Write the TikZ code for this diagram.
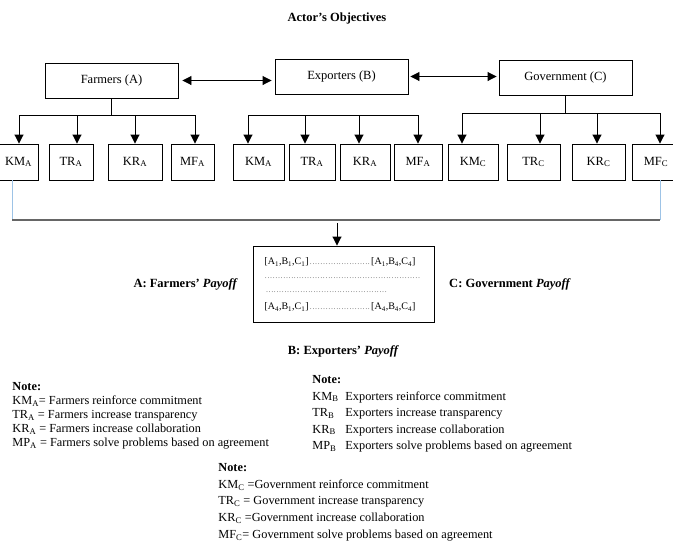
\documentclass[tikz,border=0pt]{standalone}
\usepackage{fontspec}
\setmainfont{Liberation Serif}
\usetikzlibrary{arrows,arrows.meta,positioning}
\newcommand{\payoffdots}{{\fontsize{6}{6}\selectfont\dotfill}}
\definecolor{feedblue}{RGB}{157,195,230}

\begin{document}
\begin{tikzpicture}[x=1pt,y=-1pt,>={Triangle[length=9pt,width=9pt]},line width=0.9pt,font=\fontsize{12.5}{14}\selectfont]
  \tikzstyle{actor}=[draw,rectangle,minimum width=133pt,minimum height=35pt,inner sep=0pt]
  \tikzstyle{goal}=[draw,rectangle,minimum height=36pt,inner sep=0pt]
  \tikzstyle{payoff label}=[font=\fontsize{12.5}{14}\selectfont\bfseries]
  \tikzstyle{row}=[anchor=west,inner sep=0pt,font=\fontsize{10}{12}\selectfont]
  \tikzstyle{note}=[anchor=north west,align=left,inner sep=0pt]
  \tikzstyle{feed}=[draw=feedblue,line width=1pt]

  \useasboundingbox (0,0) rectangle (673,542);

  \node[font=\fontsize{12.5}{14}\selectfont\bfseries] (title) at (337,18) {Actor's Objectives};

  \node[actor] (farmers)    at (111.5,80.5) {Farmers (A)};
  \node[actor] (exporters)  at (341.5,76.5) {Exporters (B)};
  \node[actor] (government) at (565.5,77.5) {Government (C)};

  \node[goal,minimum width=39pt] (kmA) at (18.5,162) {KM\textsubscript{A}};
  \node[goal,minimum width=44pt] (trA) at (71,162)   {TR\textsubscript{A}};
  \node[goal,minimum width=54pt] (krA) at (135,162)  {KR\textsubscript{A}};
  \node[goal,minimum width=43pt] (mfA) at (192.5,162) {MF\textsubscript{A}};
  \node[goal,minimum width=51pt] (kmB) at (258.5,162) {KM\textsubscript{A}};
  \node[goal,minimum width=46pt] (trB) at (312,162)  {TR\textsubscript{A}};
  \node[goal,minimum width=50pt] (krB) at (365,162)  {KR\textsubscript{A}};
  \node[goal,minimum width=48pt] (mfB) at (418,162)  {MF\textsubscript{A}};
  \node[goal,minimum width=50pt] (kmC) at (473,162)  {KM\textsubscript{C}};
  \node[goal,minimum width=53pt] (trC) at (533.5,162) {TR\textsubscript{C}};
  \node[goal,minimum width=53pt] (krC) at (598.5,162) {KR\textsubscript{C}};
  \node[goal,minimum width=48pt] (mfC) at (656,162)  {MF\textsubscript{C}};

  \coordinate (fbus) at (111.5,115);
  \coordinate (f1) at (19,115);
  \coordinate (f2) at (77,115);
  \coordinate (f3) at (135,115);
  \coordinate (f4) at (195,115);
  \coordinate (e1) at (248,115);
  \coordinate (e2) at (305,115);
  \coordinate (e3) at (359,115);
  \coordinate (e4) at (418,115);
  \coordinate (gbus) at (565.5,113);
  \coordinate (g1) at (462,113);
  \coordinate (g2) at (540,113);
  \coordinate (g3) at (597,113);
  \coordinate (g4) at (660,113);

  \draw[<->,shorten <=4pt,shorten >=3pt] (farmers.east) -- (farmers.east -| exporters.west);
  \draw[<->,shorten <=2pt,shorten >=2pt] (exporters.east) -- (exporters.east -| government.west);

  \draw (farmers) -- (fbus);
  \draw (f1) -- (f4);
  \draw (e1) -- (e4);
  \draw (government) -- (gbus);
  \draw (g1) -- (g4);

  \path[->]
  (f1) edge (f1 |- kmA.north)
  (f2) edge (f2 |- trA.north)
  (f3) edge (f3 |- krA.north)
  (f4) edge (f4 |- mfA.north)
  (e1) edge (e1 |- kmB.north)
  (e2) edge (e2 |- trB.north)
  (e3) edge (e3 |- krB.north)
  (e4) edge (e4 |- mfB.north)
  (g1) edge (g1 |- kmC.north)
  (g2) edge (g2 |- trC.north)
  (g3) edge (g3 |- krC.north)
  (g4) edge (g4 |- mfC.north);

  \node[draw,minimum width=181pt,minimum height=76pt] (payoff) at (343.5,284) {};

  \coordinate (jl) at (12,220);
  \coordinate (jr) at (660,220);
  \coordinate (jm) at (337,223);
  \draw[feed] (jl |- kmA.south) -- (jl);
  \draw[feed] (jr |- mfC.south) -- (jr);
  \draw[draw=black!60,line width=1.2pt] (jl) -- (jr);
  \draw[->] (jm) -- (jm |- payoff.north);

  \node[row,text width=151pt] (row1) at (264,262) {[A\textsubscript{1},B\textsubscript{1},C\textsubscript{1}]\payoffdots[A\textsubscript{1},B\textsubscript{4},C\textsubscript{4}]};
  \node[row,text width=156pt] (row2) at (264,278) {\payoffdots};
  \node[row,text width=124pt] (row3) at (264,292) {\payoffdots};
  \node[row,text width=151pt] (row4) at (264,307) {[A\textsubscript{4},B\textsubscript{1},C\textsubscript{1}]\payoffdots[A\textsubscript{4},B\textsubscript{4},C\textsubscript{4}]};

  \node[payoff label] (payA) [left=11pt of payoff]  {A: Farmers' \textit{Payoff}};
  \node[payoff label] (payC) [right=11pt of payoff] {C: Government \textit{Payoff}};
  \node[payoff label] (payB) [below=19pt of payoff] {B: Exporters' \textit{Payoff}};

  \node[note,font=\fontsize{12.3}{14}\selectfont] (noteA) at (12,382) {\textbf{Note:}\\
    KM\textsubscript{A}= Farmers reinforce commitment\\
    TR\textsubscript{A} = Farmers increase transparency\\
    KR\textsubscript{A} = Farmers increase collaboration\\
    MP\textsubscript{A} = Farmers solve problems based on agreement};
  \node[note,font=\fontsize{12.3}{16.5}\selectfont] (noteB) at (312,375) {\textbf{Note:}\\
    \makebox[33pt][l]{KM\textsubscript{B}}Exporters reinforce commitment\\
    \makebox[33pt][l]{TR\textsubscript{B}}Exporters increase transparency\\
    \makebox[33pt][l]{KR\textsubscript{B}}Exporters increase collaboration\\
    \makebox[33pt][l]{MP\textsubscript{B}}Exporters solve problems based on agreement};
  \node[note,font=\fontsize{12.3}{16.7}\selectfont] (noteC) at (218,463) {\textbf{Note:}\\
    KM\textsubscript{C} =Government reinforce commitment\\
    TR\textsubscript{C} = Government increase transparency\\
    KR\textsubscript{C} =Government increase collaboration\\
    MF\textsubscript{C}= Government solve problems based on agreement};
\end{tikzpicture}
\end{document}
